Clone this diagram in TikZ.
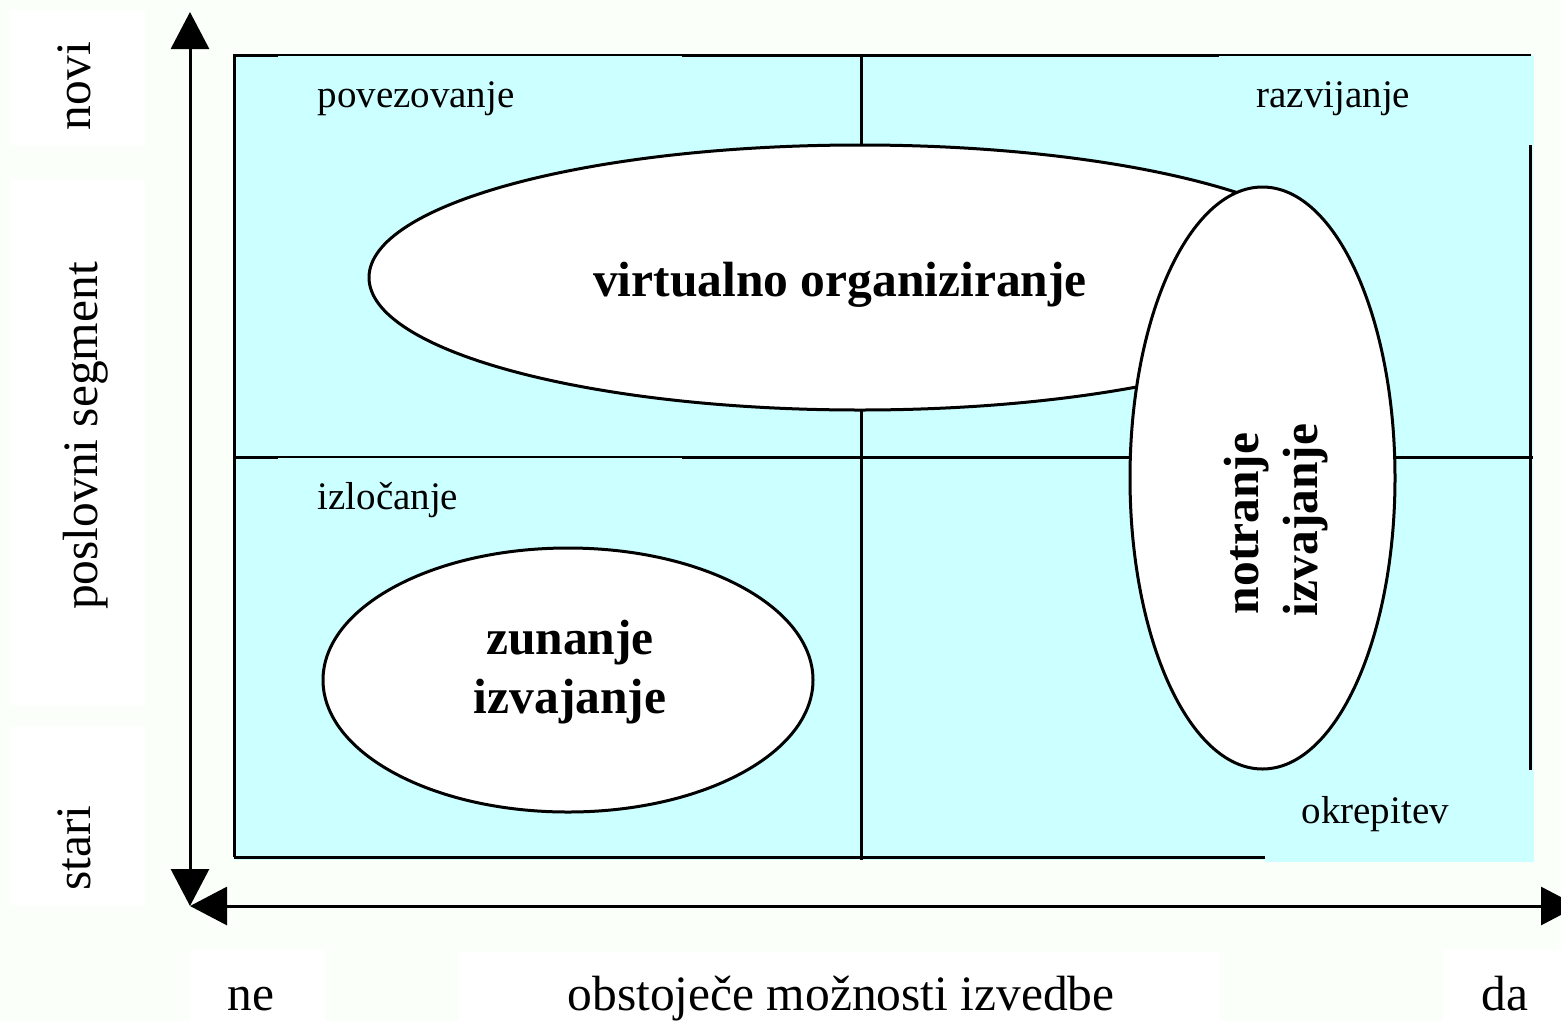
\documentclass[tikz,border=0pt]{standalone}
\usepackage{fontspec}
\setmainfont{Liberation Serif}
\usetikzlibrary{arrows.meta,shapes.geometric}
\definecolor{bgc}{RGB}{250,255,250}
\definecolor{cyanfill}{RGB}{204,255,255}
\begin{document}
\begin{tikzpicture}[x=1pt,y=-1pt, line width=3pt,
  >={Triangle[length=37pt,width=38pt]},
  axlabel/.style={font=\fontsize{49.5}{55}\selectfont, inner sep=0pt, anchor=base},
  quadlabel/.style={font=\fontsize{39}{44}\selectfont, inner sep=0pt, anchor=base west},
  boldlabel/.style={font=\fontsize{49.5}{58}\selectfont\bfseries, inner sep=0pt, anchor=base},
  oval/.style={ellipse, draw, fill=white, inner sep=0pt, line width=3pt},
  whitebox/.style={fill=white},
  cyanbox/.style={fill=cyanfill}
]
\useasboundingbox (0,0) rectangle (1561,1021);
\clip (0,0) rectangle (1561,1021);
% background
\fill[bgc] (0,0) rectangle (1561,1021);
\fill[whitebox] (10,10) rectangle (145,145);
\fill[whitebox] (10,180) rectangle (145,705);
\fill[whitebox] (10,727) rectangle (145,905);
\fill[whitebox] (190,950) rectangle (325,1021);
\fill[whitebox] (459,952) rectangle (1220,1021);
\fill[whitebox] (1443,950) rectangle (1561,1021);
% quadrant field
\fill[cyanbox] (234,55) rectangle (1533,860);
\draw (234,857) -- (234,55) -- (1531,55);
\draw (234,857) -- (1265,857);
\draw (1530,145) -- (1530,770);
\draw (861,55) -- (861,860);
\draw (234,457) -- (1533,457);
% label boxes covering lines
\fill[cyanbox] (278,56) rectangle (682,145);
\fill[cyanbox] (1219,56) rectangle (1534,145);
\fill[cyanbox] (278,458) rectangle (682,540);
\fill[cyanbox] (1265,771) rectangle (1534,862);
% axes
\coordinate (O) at (190,906);
\coordinate (Ytop) at (190,12);
\coordinate (Xend) at (1578,906);
\draw[<->] (Ytop) -- (O);
\draw[<->] (O) -- (Xend);
% axis labels
\node[axlabel, rotate=90] (novi) at (90,86) {novi};
\node[axlabel, rotate=90] (seg) at (97,436) {poslovni segment};
\node[axlabel, rotate=90] (stari) at (90,848) {stari};
\node[axlabel, anchor=base west] (ne) at (226,1010) {ne};
\node[axlabel, anchor=base west] (obst) at (566,1010) {obstoječe možnosti izvedbe};
\node[axlabel, anchor=base west] (da) at (1480,1010) {da};
% quadrant labels
\node[quadlabel] (pov) at (316,107) {povezovanje};
\node[quadlabel] (raz) at (1255,107) {razvijanje};
\node[quadlabel] (izl) at (316,509) {izločanje};
\node[quadlabel] (okr) at (1300,823) {okrepitev};
% ellipses
\node[oval, minimum width=982pt, minimum height=265pt] (virt) at (860,277.5) {};
\node[boldlabel] (virtt) at (840,296) {virtualno organiziranje};
\node[oval, minimum width=490pt, minimum height=264pt] (zun) at (568,680) {};
\node[boldlabel] (zunt1) at (570,654) {zunanje};
\node[boldlabel] (zunt2) at (570,713) {izvajanje};
\node[oval, minimum width=265pt, minimum height=582pt] (notr) at (1262.5,478) {};
\node[boldlabel, rotate=90] (notrt1) at (1258,523.5) {notranje};
\node[boldlabel, rotate=90] (notrt2) at (1317,520) {izvajanje};
\end{tikzpicture}
\end{document}
